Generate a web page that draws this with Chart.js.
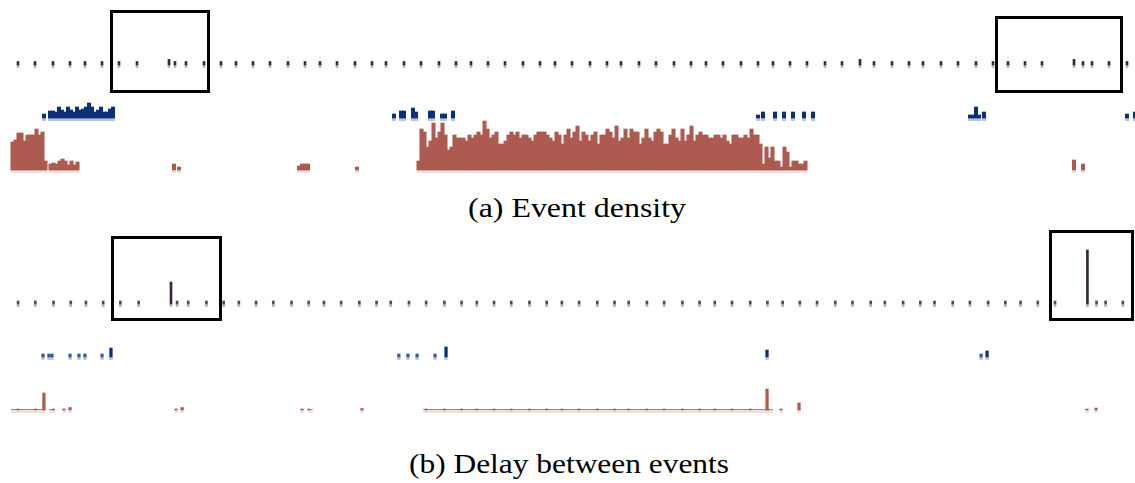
<!DOCTYPE html>
<html>
<head>
<meta charset="utf-8">
<script src="https://cdn.jsdelivr.net/npm/chart.js@4.4.1/dist/chart.umd.min.js"></script>
<style>
  body { margin: 0; width: 1135px; height: 483px; overflow: hidden; background: #fff; position: relative; }
  canvas { position: absolute; left: 10px; }
  .box { position: absolute; border: 3px solid #000; box-sizing: border-box; }
  .cap { position: absolute; font-family: "Liberation Serif", serif; font-size: 27px; line-height: 27px;
         white-space: nowrap; transform-origin: 0 0; color: #000; }
</style>
</head>
<body>
<canvas id="densEvents" width="1125" height="13"></canvas>
<canvas id="densBlue" width="1125" height="23"></canvas>
<canvas id="densRed" width="1125" height="55"></canvas>
<canvas id="delayEvents" width="1125" height="63"></canvas>
<canvas id="delayBlue" width="1125" height="17"></canvas>
<canvas id="delayRed" width="1125" height="27"></canvas>

<div class="box" style="left:110px; top:10px; width:100px; height:83px;"></div>
<div class="box" style="left:995px; top:16px; width:128px; height:77px;"></div>
<div class="box" style="left:111px; top:236px; width:111px; height:85px;"></div>
<div class="box" style="left:1049px; top:230px; width:85px; height:91px;"></div>

<div class="cap" id="capA" style="left:468px; top:195px;" data-width="218">(a) Event density</div>
<div class="cap" id="capB" style="left:409px; top:451px;" data-width="320">(b) Delay between events</div>

<script>
// time axis: one unit per pixel of the top panel
const BIN = 3;

// periodic events (same for both panels)
const eventTimes = [8, 25, 43, 60, 75, 92, 109, 127, 159, 165, 176, 194, 211, 226, 243, 260,
  278, 295, 310, 327, 345, 362, 376, 394, 411, 429, 446, 461, 478, 495, 513, 530,
  545, 562, 580, 597, 611, 629, 646, 664, 681, 696, 713, 731, 748, 763, 780, 797,
  815, 832, 850, 864, 882, 899, 913, 931, 948, 966, 983, 998, 1015, 1032, 1064, 1073,
  1082, 1099, 1117];
const eventDensity = [1, 1, 1, 1, 1, 1, 1, 1, 1.6, 1, 1, 1, 1, 1, 1, 1,
  1, 1, 1, 1, 1, 1, 1, 1, 1, 1, 1, 1, 1, 1, 1, 1,
  1, 1, 1, 1, 1, 1, 1, 1, 1, 1, 1, 1, 1, 1, 1, 1,
  1, 1, 1.6, 1, 1, 1, 1, 1, 1, 1, 1, 1, 1, 1, 1.6, 1,
  1, 1, 1];
const eventDelay = [3, 3, 3, 3, 3, 3, 3, 3, 22, 3, 3, 3, 3, 3, 3, 3,
  3, 3, 3, 3, 3, 3, 3, 3, 3, 3, 3, 3, 3, 3, 3, 3,
  3, 3, 3, 3, 3, 3, 3, 3, 3, 3, 3, 3, 3, 3, 3, 3,
  3, 3, 3, 3, 3, 3, 3, 3, 3, 3, 3, 3, 3, 3, 54, 3,
  3, 3, 3];

// density segments: [start time, value per bin...]
const blueDensity = [
  [34, 4],
  [40, 7, 7, 6, 11, 8, 6, 11, 8, 6, 11, 8, 9, 11, 15, 11, 6, 8, 11, 6, 6, 9, 11],
  [384, 4], [391, 7, 7], [403, 10, 6], [420, 7, 7], [432, 4, 4], [443, 7],
  [748, 3], [753, 6], [765, 6], [774, 6], [783, 6], [794, 6], [803, 6],
  [960, 3, 3, 11, 3], [974, 6], [1117, 4], [1125, 6]
];
const redDensity = [
  [2.5, 28, 30, 37, 37, 29, 35, 35, 35, 41, 35, 38, 9],
  [40.5, 6, 7, 6, 9, 11, 9, 5, 9, 5, 8],
  [164, 6], [169, 3],
  [289, 4, 6, 6, 6],
  [347, 3],
  [408.5, 9, 41, 38, 23, 29, 47, 32, 38, 47, 35,
    20, 23, 35, 32, 32, 32, 29, 35, 32, 35,
    38, 35, 49, 41, 32, 35, 38, 26, 26, 29,
    35, 38, 35, 38, 32, 35, 35, 32, 29, 35,
    38, 38, 38, 35, 32, 29, 38, 35, 26, 35,
    41, 32, 38, 44, 29, 38, 35, 29, 35, 38,
    26, 35, 35, 41, 38, 32, 44, 29, 32, 41,
    32, 41, 38, 38, 26, 32, 41, 32, 29, 38,
    41, 38, 26, 26, 35, 41, 32, 29, 41, 29,
    35, 44, 29, 35, 38, 35, 35, 32, 32, 35,
    35, 32, 35, 29, 26, 35, 35, 32, 32, 35,
    32, 41, 35, 35, 26,
    6, 23, 12, 23, 9, 9, 3, 23, 18, 3, 9, 9, 6, 6, 9],
  [1064, 10], [1073, 6]
];

// delay panel
const blueDelayTimes = [32.6, 38.5, 41.5, 59.3, 68.1, 74, 90.9, 99.7, 384, 393, 402, 419.7, 430.6, 747.6, 959, 964.9];
const blueDelayValues = [3, 3, 3, 3, 3, 3, 3, 9, 3, 3, 3, 3, 10, 7, 3, 6];
const redDelayRuns = [[1, 35, 1], [38.5, 44.5, 1], [294, 299, 1], [408, 753.5, 1]]; // [from, to, delay]
const redDelayTimes = [33.5, 53.3, 59.3, 164, 170, 288.4, 347.6, 747.6, 761.4, 779.2, 1063.6, 1072.5];
const redDelayValues = [17, 1, 2.5, 1, 2.5, 1, 1.5, 21, 1, 7, 1, 2];

const X_MAX_A = 1125;
const X_MAX_B = 1111;

const colors = {
  purple: '#3b2342', purpleMid: '#58485f', purpleBand: '#c1b3c7',
  blue: '#0c2f7a', blueMid: '#3a5a9d', blueBand: '#b9c5de',
  red: '#ad5a50', redLine: '#c47b71', redBand: '#f1dede'
};

const rowLayout = {
  densEvents:  { top: 55,  height: 13, base: 3, unit: 3.5 },
  densBlue:    { top: 98,  height: 23, base: 3, unit: 1 },
  densRed:     { top: 118, height: 55, base: 3, unit: 1 },
  delayEvents: { top: 244, height: 63, base: 3, unit: 1 },
  delayBlue:   { top: 343, height: 17, base: 3, unit: 1 },
  delayRed:    { top: 386, height: 27, base: 3, unit: 1 }
};

function segPoints(segs) {
  return segs.flatMap(([start, ...vals]) => vals.map((v, i) => ({ x: start + i * BIN, y: v })));
}
function zipPoints(xs, ys) {
  return xs.map((x, i) => ({ x: x, y: ys[i] }));
}

function barSet(points, color, thickness) {
  return { type: 'bar', data: points, backgroundColor: color, barThickness: thickness };
}
function bandSet(points, color, thickness, yMin) {
  return { type: 'bar', data: points.map(p => ({ x: p.x, y: [yMin, 0] })), backgroundColor: color, barThickness: thickness };
}
function runSet(from, to, v, color) {
  return { type: 'line', data: [{ x: from, y: v }, { x: to, y: v }], fill: 'origin',
    backgroundColor: color, borderColor: 'transparent', borderWidth: 0, pointRadius: 0 };
}
function runBand(from, to, color, yMin) {
  return { type: 'line', data: [{ x: from, y: 0 }, { x: to, y: 0 }], fill: { value: yMin },
    backgroundColor: color, borderColor: 'transparent', borderWidth: 0, pointRadius: 0 };
}

function makeRow(id, xMax, build) {
  const L = rowLayout[id];
  const yMin = -L.base / L.unit;
  const yMax = (L.height - L.base) / L.unit;
  const cv = document.getElementById(id);
  cv.style.top = L.top + 'px';
  new Chart(cv, {
    type: 'bar',
    data: { datasets: build(yMin) },
    options: {
      responsive: false,
      animation: false,
      devicePixelRatio: 1,
      layout: { padding: 0 },
      plugins: { legend: { display: false }, tooltip: { enabled: false } },
      datasets: { bar: { grouped: false, borderWidth: 0 } },
      scales: {
        x: { type: 'linear', min: 0, max: xMax, display: false, offset: false },
        y: { min: yMin, max: yMax, display: false }
      }
    }
  });
}

// (a) event density
const evA = zipPoints(eventTimes, eventDensity);
makeRow('densEvents', X_MAX_A, yMin => [
  barSet(evA, colors.purple, 2),
  bandSet(evA, colors.purpleBand, 2, yMin)
]);

const blueA = segPoints(blueDensity);
makeRow('densBlue', X_MAX_A, yMin => [
  barSet(blueA, colors.blue, 3.4),
  bandSet(blueA, colors.blueBand, 3.4, yMin)
]);

const redA = segPoints(redDensity);
makeRow('densRed', X_MAX_A, yMin => [
  barSet(redA, colors.red, 3.4),
  bandSet(redA, colors.redBand, 3.4, yMin)
]);

// (b) delay between events
const evB = zipPoints(eventTimes, eventDelay);
makeRow('delayEvents', X_MAX_B, yMin => [
  barSet(evB, ctx => (ctx.raw && ctx.raw.y > 5 ? colors.purple : colors.purpleMid), 2),
  bandSet(evB, colors.purpleBand, 2, yMin)
]);

const blueB = zipPoints(blueDelayTimes, blueDelayValues);
makeRow('delayBlue', X_MAX_B, yMin => [
  barSet(blueB, ctx => (ctx.raw && ctx.raw.y > 4 ? colors.blue : colors.blueMid), 2.6),
  bandSet(blueB, colors.blueBand, 2.6, yMin)
]);

const redB = zipPoints(redDelayTimes, redDelayValues);
const onRuns = evB.filter(p => redDelayRuns.some(r => p.x >= r[0] && p.x <= r[1])).map(p => ({ x: p.x, y: 1 }));
makeRow('delayRed', X_MAX_B, yMin => [
  barSet(redB, colors.red, 2.6),
  barSet(onRuns, colors.red, 2),
  ...redDelayRuns.map(r => runSet(r[0], r[1], r[2], colors.redLine)),
  bandSet(redB, colors.redBand, 2.6, yMin),
  ...redDelayRuns.map(r => runBand(r[0], r[1], colors.redBand, yMin))
]);

// stretch captions to the reference width
document.querySelectorAll('.cap').forEach(el => {
  const w = el.getBoundingClientRect().width;
  el.style.transform = 'scaleX(' + (parseFloat(el.dataset.width) / w) + ')';
});
</script>
</body>
</html>
